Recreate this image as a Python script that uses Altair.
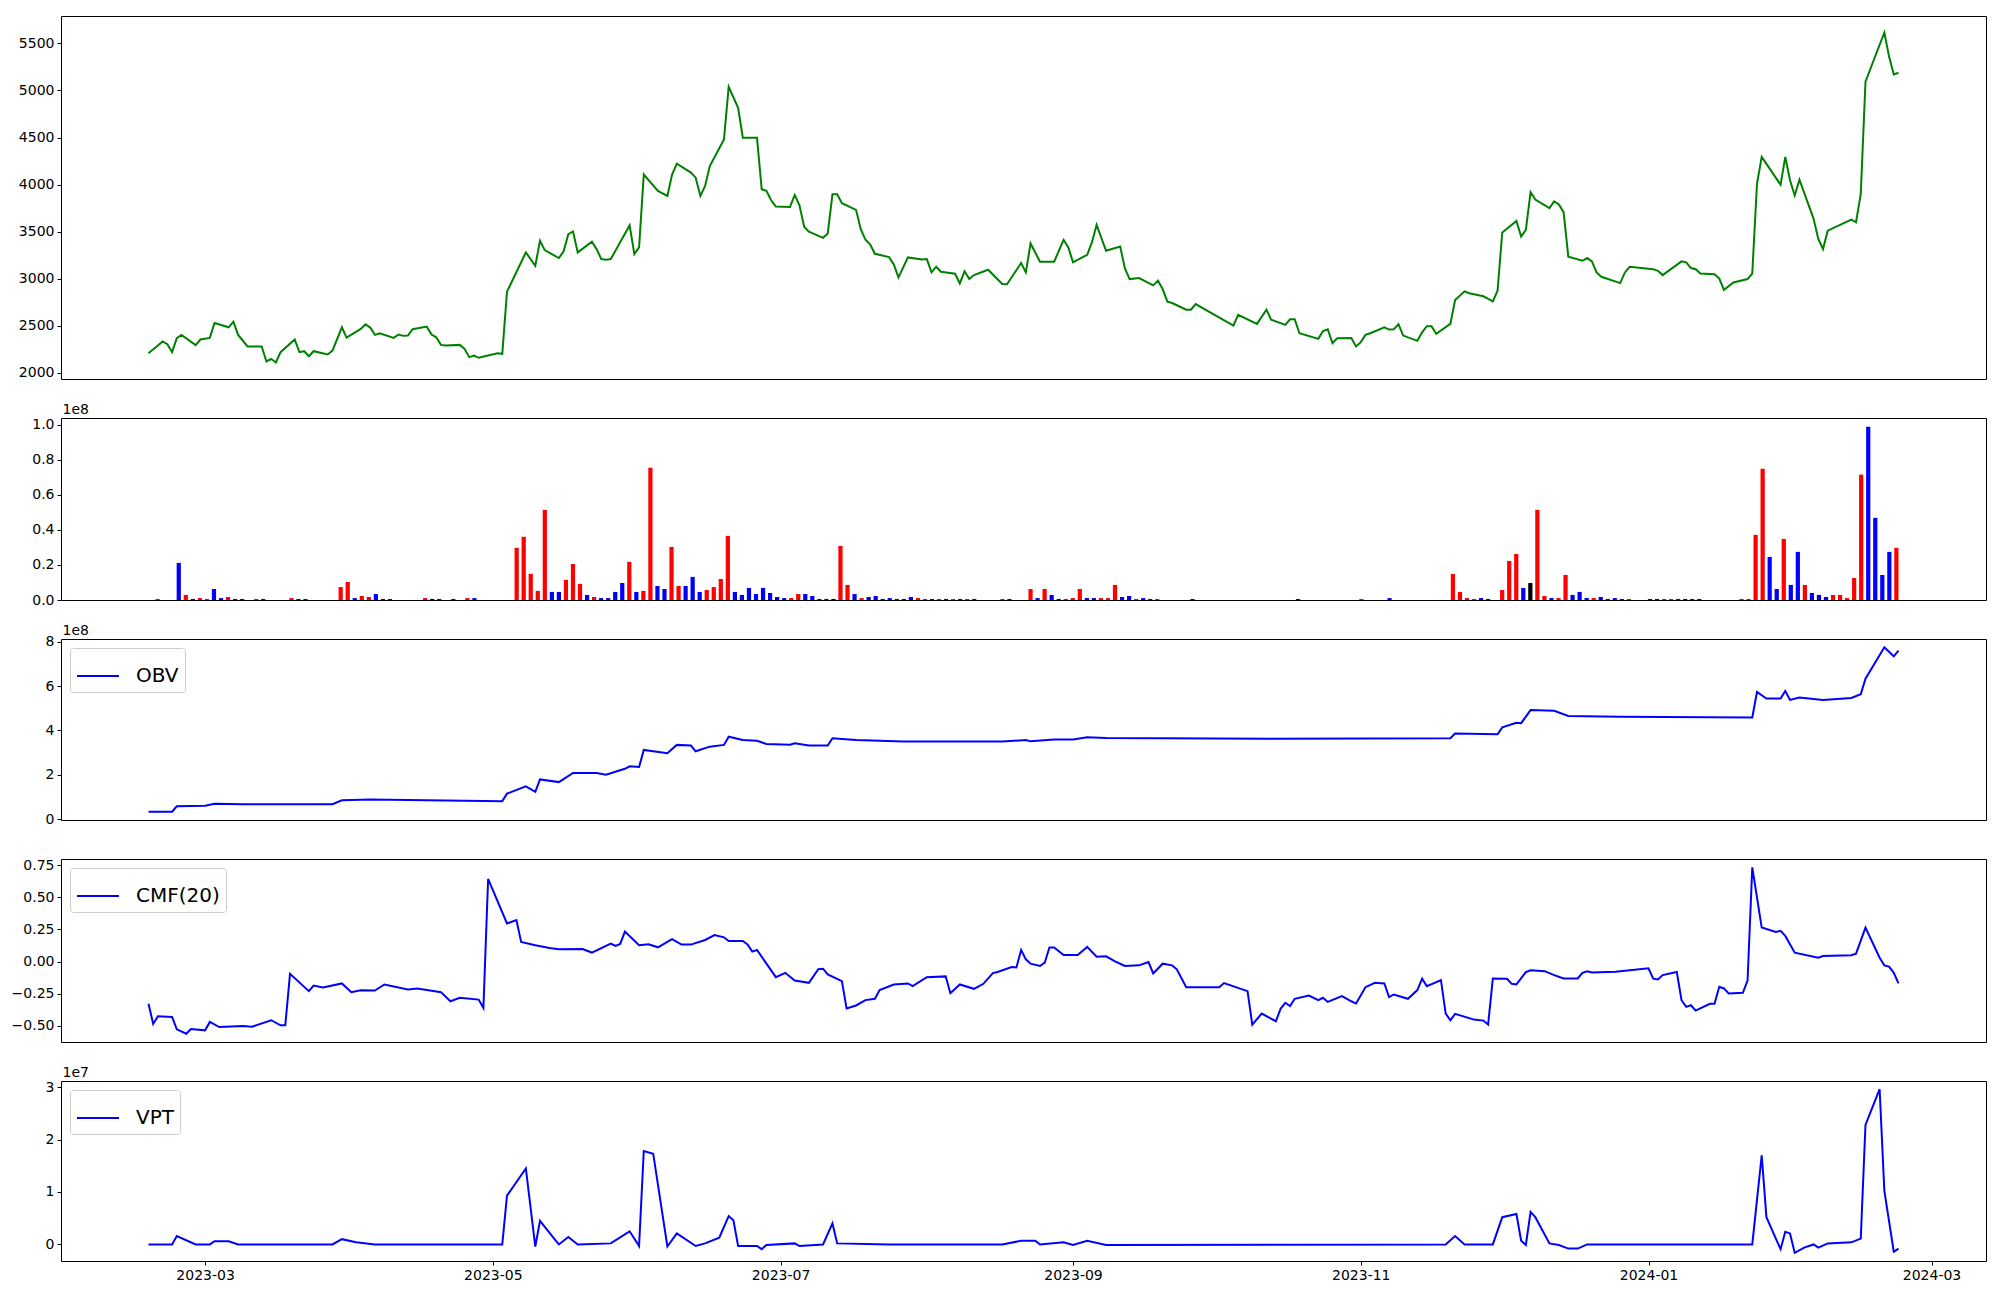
import altair as alt
import pandas as pd

START = pd.Timestamp("2023-02-17")  # day 0 of the series

# ---------------- price (green line) ----------------
price_day = [
    0, 3, 4, 5, 6, 7, 10, 11, 13, 14,
    17, 18, 19, 21, 24, 25, 26, 27, 28, 31,
    32, 33, 34, 35, 38, 39, 41, 42, 45, 46,
    47, 48, 49, 52, 53, 54, 55, 56, 59, 60,
    61, 62, 63, 66, 67, 68, 69, 70, 74, 75,
    76, 80, 82, 83, 84, 87, 88, 89, 90, 91,
    94, 95, 96, 97, 98, 102, 103, 104, 105, 108,
    110, 111, 112, 115, 116, 117, 118, 119, 122, 123,
    125, 126, 129, 130, 131, 132, 133, 136, 137, 138,
    139, 140, 143, 144, 145, 146, 147, 150, 151, 152,
    153, 154, 157, 158, 159, 161, 164, 165, 166, 167,
    168, 171, 172, 173, 174, 175, 178, 181, 182, 185,
    186, 187, 189, 192, 194, 195, 196, 199, 200, 201,
    203, 206, 207, 208, 210, 213, 214, 215, 216, 217,
    220, 221, 222, 230, 231, 235, 237, 238, 241, 242,
    243, 244, 248, 249, 250, 251, 252, 255, 256, 257,
    258, 259, 262, 263, 264, 265, 266, 269, 270, 271,
    272, 273, 276, 277, 279, 280, 283, 285, 286, 287,
    290, 291, 292, 293, 294, 297, 298, 299, 300, 301,
    304, 305, 306, 307, 308, 312, 313, 314, 319, 320,
    321, 325, 326, 327, 328, 329, 332, 333, 334, 336,
    339, 340, 341, 342, 346, 347, 348, 349, 350, 353,
    354, 355, 356, 361, 362, 363, 364, 368, 369, 370,
    371,
]
price_val = [
    2210, 2334, 2306, 2221, 2369, 2404, 2295, 2355, 2372, 2531,
    2485, 2545, 2404, 2281, 2281, 2122, 2150, 2111, 2221, 2355,
    2221, 2231, 2178, 2231, 2196, 2238, 2485, 2376, 2468, 2517,
    2482, 2404, 2422, 2372, 2408, 2394, 2397, 2464, 2492, 2408,
    2379, 2298, 2291, 2298, 2256, 2168, 2185, 2161, 2210, 2203,
    2863, 3280, 3138, 3403, 3304, 3220, 3291, 3474, 3502, 3280,
    3393, 3315, 3209, 3202, 3209, 3569, 3262, 3333, 4106, 3933,
    3880, 4106, 4222, 4127, 4074, 3880, 3986, 4197, 4480, 5038,
    4815, 4497, 4497, 3950, 3933, 3834, 3767, 3763, 3890, 3781,
    3552, 3499, 3435, 3481, 3898, 3898, 3802, 3732, 3527, 3414,
    3364, 3265, 3230, 3153, 3015, 3227, 3206, 3209, 3068, 3128,
    3075, 3054, 2951, 3079, 2997, 3040, 3096, 2944, 2941, 3167,
    3068, 3375, 3181, 3181, 3414, 3333, 3174, 3255, 3386, 3573,
    3297, 3343, 3110, 2997, 3008, 2930, 2980, 2891, 2757, 2743,
    2672, 2672, 2732, 2503, 2616, 2521, 2672, 2566, 2510, 2570,
    2570, 2422, 2362, 2446, 2464, 2316, 2369, 2372, 2281, 2327,
    2404, 2422, 2485, 2461, 2464, 2517, 2397, 2341, 2432, 2496,
    2496, 2415, 2521, 2775, 2867, 2846, 2814, 2761, 2874, 3491,
    3615, 3449, 3519, 3920, 3842, 3750, 3821, 3789, 3707, 3235,
    3191, 3220, 3185, 3067, 3021, 2954, 3067, 3127, 3102, 3084,
    3039, 3185, 3174, 3114, 3102, 3056, 3049, 3003, 2882, 2961,
    2997, 3056, 4009, 4294, 3999, 4294, 4046, 3885, 4052, 3636,
    3422, 3316, 3511, 3629, 3600, 3902, 5093, 5615, 5359, 5170,
    5188,
]

# ---------------- volume bars (position index, value in 1e8, colour) ----------------
VOL_COUNT = 249
vol_idx = [
    1, 4, 5, 6, 7, 8, 9, 10, 11, 12,
    13, 15, 16, 20, 21, 22, 27, 28, 29, 30,
    31, 32, 33, 34, 39, 40, 41, 43, 45, 46,
    52, 53, 54, 55, 56, 57, 58, 59, 60, 61,
    62, 63, 64, 65, 66, 67, 68, 69, 70, 71,
    72, 73, 74, 75, 76, 77, 78, 79, 80, 81,
    82, 83, 84, 85, 86, 87, 88, 89, 90, 91,
    92, 93, 94, 95, 96, 97, 98, 99, 100, 101,
    102, 103, 104, 105, 106, 107, 108, 109, 110, 111,
    112, 113, 114, 115, 116, 117, 121, 122, 125, 126,
    127, 128, 129, 130, 131, 132, 133, 134, 135, 136,
    137, 138, 139, 140, 141, 142, 143, 148, 163, 172,
    176, 185, 186, 187, 188, 189, 190, 192, 193, 194,
    195, 196, 197, 198, 199, 200, 201, 202, 203, 204,
    205, 206, 207, 208, 209, 210, 213, 214, 215, 216,
    217, 218, 219, 220, 226, 227, 228, 229, 230, 231,
    232, 233, 234, 235, 236, 237, 238, 239, 240, 241,
    242, 243, 244, 245, 246, 247, 248,
]
vol_val = [
    0.006, 0.212, 0.029, 0.006, 0.011, 0.006, 0.063, 0.011, 0.017, 0.006,
    0.006, 0.006, 0.006, 0.011, 0.006, 0.006, 0.074, 0.103, 0.011, 0.023,
    0.017, 0.034, 0.006, 0.006, 0.011, 0.006, 0.006, 0.006, 0.011, 0.011,
    0.298, 0.361, 0.149, 0.052, 0.515, 0.046, 0.046, 0.115, 0.206, 0.092,
    0.029, 0.017, 0.011, 0.011, 0.046, 0.097, 0.218, 0.046, 0.052, 0.756,
    0.080, 0.063, 0.303, 0.080, 0.080, 0.132, 0.046, 0.057, 0.074, 0.120,
    0.366, 0.046, 0.029, 0.069, 0.034, 0.069, 0.040, 0.017, 0.011, 0.011,
    0.034, 0.034, 0.023, 0.006, 0.006, 0.006, 0.309, 0.086, 0.034, 0.011,
    0.017, 0.023, 0.006, 0.011, 0.006, 0.006, 0.017, 0.011, 0.006, 0.006,
    0.006, 0.006, 0.006, 0.006, 0.006, 0.006, 0.006, 0.006, 0.063, 0.011,
    0.063, 0.029, 0.006, 0.006, 0.011, 0.063, 0.011, 0.011, 0.011, 0.011,
    0.086, 0.017, 0.023, 0.006, 0.011, 0.006, 0.006, 0.006, 0.006, 0.006,
    0.011, 0.149, 0.046, 0.011, 0.006, 0.011, 0.006, 0.057, 0.223, 0.263,
    0.069, 0.097, 0.515, 0.023, 0.011, 0.011, 0.143, 0.029, 0.046, 0.011,
    0.011, 0.017, 0.006, 0.011, 0.006, 0.006, 0.006, 0.006, 0.006, 0.006,
    0.006, 0.006, 0.006, 0.006, 0.006, 0.006, 0.372, 0.750, 0.246, 0.063,
    0.349, 0.086, 0.275, 0.086, 0.040, 0.029, 0.017, 0.029, 0.029, 0.011,
    0.126, 0.716, 0.990, 0.469, 0.143, 0.275, 0.298,
]
vol_col = [
    "r", "b", "r", "b", "r", "r", "b", "b", "r", "b",
    "b", "r", "b", "r", "b", "b", "r", "r", "b", "r",
    "r", "b", "b", "b", "r", "k", "b", "b", "r", "b",
    "r", "r", "r", "r", "r", "b", "b", "r", "r", "r",
    "b", "r", "b", "b", "b", "b", "r", "b", "r", "r",
    "b", "b", "r", "r", "b", "b", "b", "r", "r", "r",
    "r", "b", "b", "b", "b", "b", "b", "b", "b", "r",
    "r", "b", "b", "b", "b", "k", "r", "r", "b", "r",
    "b", "b", "b", "b", "b", "b", "b", "r", "r", "b",
    "r", "b", "r", "b", "r", "b", "r", "b", "r", "b",
    "r", "b", "b", "r", "r", "r", "b", "b", "r", "r",
    "r", "b", "b", "r", "b", "b", "r", "b", "b", "r",
    "b", "r", "r", "r", "r", "b", "b", "r", "r", "r",
    "b", "k", "r", "r", "b", "r", "r", "b", "b", "b",
    "r", "b", "b", "b", "b", "r", "b", "b", "r", "r",
    "b", "b", "b", "b", "r", "r", "r", "r", "b", "b",
    "r", "b", "b", "r", "b", "b", "b", "r", "r", "r",
    "r", "r", "b", "b", "b", "b", "r",
]

# ---------------- OBV (1e8) ----------------
obv_day = [
    0, 5, 6, 12, 14, 20, 39, 41, 47, 75,
    76, 80, 82, 83, 87, 90, 95, 97, 101, 102,
    104, 105, 110, 112, 115, 116, 119, 122, 123, 126,
    129, 131, 136, 137, 140, 144, 145, 150, 160, 181,
    186, 187, 192, 196, 199, 203, 238, 276, 277, 286,
    287, 290, 291, 293, 298, 301, 312, 340, 341, 343,
    346, 347, 348, 350, 355, 361, 363, 364, 368, 370,
    371,
]
obv_val = [
    0.33, 0.33, 0.58, 0.60, 0.69, 0.67, 0.67, 0.85, 0.88, 0.81,
    1.15, 1.48, 1.23, 1.79, 1.67, 2.08, 2.08, 2.00, 2.27, 2.38,
    2.35, 3.12, 2.97, 3.35, 3.32, 3.06, 3.27, 3.35, 3.72, 3.57,
    3.54, 3.39, 3.36, 3.42, 3.32, 3.32, 3.65, 3.57, 3.50, 3.50,
    3.57, 3.51, 3.59, 3.59, 3.69, 3.66, 3.63, 3.65, 3.86, 3.83,
    4.14, 4.35, 4.33, 4.92, 4.89, 4.66, 4.62, 4.59, 5.74, 5.44,
    5.44, 5.78, 5.38, 5.49, 5.38, 5.47, 5.64, 6.34, 7.76, 7.35,
    7.61,
]

# ---------------- CMF(20) ----------------
cmf_day = [
    0, 1, 2, 5, 6, 8, 9, 12, 13, 15,
    20, 22, 26, 28, 29, 30, 34, 35, 37, 41,
    43, 45, 48, 50, 55, 57, 62, 64, 66, 70,
    71, 72, 76, 78, 79, 82, 85, 87, 92, 94,
    98, 99, 100, 101, 104, 106, 108, 111, 113, 115,
    118, 120, 122, 123, 126, 127, 128, 129, 133, 135,
    137, 140, 142, 143, 144, 147, 148, 150, 152, 154,
    155, 158, 161, 162, 165, 169, 170, 172, 175, 177,
    179, 180, 183, 184, 185, 186, 187, 189, 190, 191,
    192, 194, 197, 199, 201, 203, 205, 207, 210, 212,
    213, 215, 217, 218, 220, 227, 228, 233, 234, 236,
    239, 240, 241, 242, 243, 246, 248, 249, 250, 253,
    255, 256, 258, 260, 262, 263, 264, 267, 269, 270,
    271, 274, 275, 276, 277, 281, 283, 284, 285, 288,
    289, 290, 292, 293, 296, 298, 300, 303, 304, 305,
    306, 311, 318, 319, 320, 321, 324, 325, 326, 327,
    328, 331, 332, 333, 334, 335, 338, 339, 340, 342,
    345, 346, 347, 349, 354, 355, 361, 362, 364, 367,
    368, 369, 370, 371,
]
cmf_val = [
    -0.330, -0.487, -0.427, -0.432, -0.529, -0.563, -0.526, -0.537, -0.471, -0.511,
    -0.503, -0.508, -0.458, -0.498, -0.498, -0.096, -0.231, -0.187, -0.203, -0.171,
    -0.239, -0.224, -0.226, -0.179, -0.218, -0.211, -0.239, -0.310, -0.283, -0.297,
    -0.362, 0.644, 0.297, 0.323, 0.153, 0.127, 0.106, 0.096, 0.098, 0.070,
    0.140, 0.122, 0.137, 0.234, 0.127, 0.135, 0.111, 0.174, 0.132, 0.132,
    0.168, 0.207, 0.189, 0.160, 0.160, 0.134, 0.077, 0.090, -0.122, -0.088,
    -0.148, -0.166, -0.059, -0.056, -0.101, -0.153, -0.367, -0.343, -0.301, -0.291,
    -0.223, -0.179, -0.171, -0.192, -0.122, -0.116, -0.247, -0.179, -0.213, -0.174,
    -0.090, -0.082, -0.043, -0.046, 0.090, 0.017, -0.017, -0.035, -0.009, 0.109,
    0.109, 0.051, 0.051, 0.114, 0.038, 0.041, -0.001, -0.035, -0.030, -0.004,
    -0.093, -0.017, -0.030, -0.061, -0.200, -0.200, -0.168, -0.231, -0.492, -0.406,
    -0.466, -0.369, -0.322, -0.348, -0.291, -0.265, -0.302, -0.283, -0.315, -0.270,
    -0.310, -0.328, -0.200, -0.166, -0.171, -0.278, -0.257, -0.291, -0.223, -0.134,
    -0.192, -0.145, -0.406, -0.458, -0.408, -0.453, -0.461, -0.492, -0.132, -0.135,
    -0.174, -0.179, -0.083, -0.069, -0.075, -0.106, -0.132, -0.132, -0.088, -0.077,
    -0.085, -0.080, -0.053, -0.134, -0.140, -0.106, -0.082, -0.302, -0.354, -0.341,
    -0.383, -0.330, -0.330, -0.197, -0.210, -0.249, -0.244, -0.148, 0.735, 0.265,
    0.231, 0.239, 0.200, 0.069, 0.030, 0.043, 0.049, 0.061, 0.265, 0.030,
    -0.030, -0.040, -0.088, -0.170,
]

# ---------------- VPT (1e7) ----------------
vpt_day = [
    0, 5, 6, 10, 13, 14, 17, 19, 39, 41,
    44, 48, 75, 76, 80, 82, 83, 86, 87, 89,
    91, 98, 102, 104, 105, 107, 110, 112, 116, 118,
    121, 123, 124, 125, 129, 130, 131, 137, 138, 143,
    145, 146, 157, 181, 185, 188, 189, 194, 196, 199,
    203, 275, 277, 279, 285, 287, 290, 291, 292, 293,
    294, 297, 299, 301, 303, 305, 340, 342, 343, 345,
    346, 347, 348, 349, 351, 353, 354, 356, 361, 363,
    364, 367, 368, 370, 371,
]
vpt_val = [
    0.0, 0.0, 0.16, 0.0, 0.0, 0.06, 0.06, 0.0, 0.0, 0.10,
    0.04, 0.0, 0.0, 0.93, 1.45, -0.04, 0.45, 0.11, 0.0, 0.14,
    0.0, 0.02, 0.25, -0.03, 1.78, 1.73, -0.04, 0.21, -0.03, 0.02,
    0.13, 0.54, 0.46, -0.03, -0.03, -0.09, -0.01, 0.02, -0.03, 0.0,
    0.40, 0.02, 0.0, 0.0, 0.07, 0.07, 0.0, 0.04, -0.01, 0.07,
    -0.01, 0.0, 0.16, 0.0, 0.0, 0.52, 0.58, 0.07, -0.01, 0.62,
    0.52, 0.02, -0.01, -0.08, -0.08, 0.0, 0.0, 1.70, 0.52, 0.11,
    -0.09, 0.24, 0.21, -0.16, -0.06, 0.0, -0.06, 0.02, 0.04, 0.11,
    2.28, 2.96, 1.02, -0.14, -0.08,
]

COLORS = {"r": "#ff0000", "b": "#0000ff", "k": "#000000"}
FONT = "DejaVu Sans"


def to_dates(days):
    return [(START + pd.Timedelta(days=d)).strftime("%Y-%m-%dT00:00:00") for d in days]


def padded(vals, frac=0.05):
    lo, hi = min(vals), max(vals)
    r = hi - lo
    return [lo - frac * r, hi + frac * r]


def dt(ts):
    return alt.DateTime(year=ts.year, month=ts.month, date=ts.day,
                        hours=ts.hour, minutes=ts.minute, seconds=ts.second)


price_df = pd.DataFrame({"date": to_dates(price_day), "price": price_val})
vol_df = pd.DataFrame({"idx": vol_idx,
                       "volume": [v * 1e8 for v in vol_val],
                       "color": [COLORS[c] for c in vol_col]})
obv_df = pd.DataFrame({"date": to_dates(obv_day), "value": [v * 1e8 for v in obv_val], "series": "OBV"})
cmf_df = pd.DataFrame({"date": to_dates(cmf_day), "value": cmf_val, "series": "CMF(20)"})
vpt_df = pd.DataFrame({"date": to_dates(vpt_day), "value": [v * 1e7 for v in vpt_val], "series": "VPT"})

# shared time scale with matplotlib-like 5% margins
last_day = max(price_day)
pad = 0.05 * last_day
x_lo = START - pd.Timedelta(days=pad)
x_hi = START + pd.Timedelta(days=last_day + pad)
x_scale = alt.Scale(domain=[dt(x_lo), dt(x_hi)])

W = 1925


def y_axis(values, label_expr=None, fmt=None, offset_text=None):
    kw = dict(values=values, grid=False, domain=False, ticks=True,
              tickSize=4, labelOverlap=False)
    if label_expr:
        kw["labelExpr"] = label_expr
    if fmt:
        kw["format"] = fmt
    if offset_text:
        # matplotlib-style scale multiplier shown above the top-left corner
        kw.update(title=offset_text, titleAngle=0, titleX=1, titleY=-5,
                  titleAlign="left", titleBaseline="alphabetic",
                  titleFont=FONT, titleFontSize=14, titleFontWeight="normal",
                  titleColor="black")
    else:
        kw["title"] = None
    return alt.Axis(**kw)


def legend():
    return alt.Legend(orient="top-left", title=None, offset=9, padding=6,
                      symbolType="stroke", symbolSize=1764, symbolStrokeWidth=2,
                      labelFontSize=20, labelFont=FONT, labelColor="black",
                      labelOffset=16, fillColor="rgba(255,255,255,0.8)",
                      strokeColor="#cccccc", cornerRadius=3)


price = alt.Chart(price_df).mark_line(color="#008000", strokeWidth=2).encode(
    x=alt.X("date:T", scale=x_scale, axis=None),
    y=alt.Y("price:Q", scale=alt.Scale(domain=padded(price_val), nice=False, zero=False),
            axis=y_axis(list(range(2000, 5501, 500)), fmt="d")),
).properties(width=W, height=363)

vmax = max(vol_val) * 1e8
vol = alt.Chart(vol_df).transform_calculate(
    x0="datum.idx - 0.3", x1="datum.idx + 0.3"
).mark_bar().encode(
    x=alt.X("x0:Q", scale=alt.Scale(domain=[-0.3 - 0.05 * (VOL_COUNT - 1 + 0.6),
                                            VOL_COUNT - 1 + 0.3 + 0.05 * (VOL_COUNT - 1 + 0.6)],
                                    nice=False, zero=False), axis=None),
    x2="x1:Q",
    y=alt.Y("volume:Q", scale=alt.Scale(domain=[0, vmax * 1.05], nice=False),
            axis=y_axis([0, 2e7, 4e7, 6e7, 8e7, 1e8], "format(datum.value / 1e8, '.1f')",
                        offset_text="1e8")),
    y2=alt.datum(0),
    color=alt.Color("color:N", scale=None),
).properties(width=W, height=182)

obv = alt.Chart(obv_df).mark_line(strokeWidth=2).encode(
    x=alt.X("date:T", scale=x_scale, axis=None),
    y=alt.Y("value:Q", scale=alt.Scale(domain=padded([v * 1e8 for v in obv_val]), nice=False, zero=False),
            axis=y_axis([0, 2e8, 4e8, 6e8, 8e8], "format(datum.value / 1e8, 'd')", offset_text="1e8")),
    color=alt.Color("series:N", scale=alt.Scale(domain=["OBV"], range=["#0000ff"]), legend=legend()),
).properties(width=W, height=181)

cmf = alt.Chart(cmf_df).mark_line(strokeWidth=2).encode(
    x=alt.X("date:T", scale=x_scale, axis=None),
    y=alt.Y("value:Q", scale=alt.Scale(domain=padded(cmf_val), nice=False, zero=False),
            axis=y_axis([-0.5, -0.25, 0, 0.25, 0.5, 0.75],
                        "datum.value < 0 ? '\u2212' + format(-datum.value, '.2f') : format(datum.value, '.2f')")),
    color=alt.Color("series:N", scale=alt.Scale(domain=["CMF(20)"], range=["#0000ff"]), legend=legend()),
).properties(width=W, height=183)

x_ticks = [alt.DateTime(year=2023, month=m, date=1) for m in (3, 5, 7, 9, 11)] + \
          [alt.DateTime(year=2024, month=m, date=1) for m in (1, 3)]

vpt = alt.Chart(vpt_df).mark_line(strokeWidth=2).encode(
    x=alt.X("date:T", scale=x_scale,
            axis=alt.Axis(title=None, values=x_ticks, format="%Y-%m", grid=False,
                          domain=False, labelFlush=False, tickSize=4, labelOverlap=False)),
    y=alt.Y("value:Q", scale=alt.Scale(domain=padded([v * 1e7 for v in vpt_val]), nice=False, zero=False),
            axis=y_axis([0, 1e7, 2e7, 3e7], "format(datum.value / 1e7, 'd')", offset_text="1e7")),
    color=alt.Color("series:N", scale=alt.Scale(domain=["VPT"], range=["#0000ff"]), legend=legend()),
).properties(width=W, height=180)

chart = alt.vconcat(
    price, vol, obv, cmf, vpt, spacing=39, bounds="flush"
).resolve_scale(
    x="independent", y="independent", color="independent"
).resolve_legend(
    color="independent"
).configure_view(
    stroke="black", strokeWidth=1
).configure_axis(
    labelFont=FONT, labelFontSize=14, labelColor="black", tickColor="black",
    tickWidth=1, labelPadding=3
).properties(
    padding={"left": 2, "top": 7, "right": 3, "bottom": 5}, background="white"
)

chart.save("out.html", embed_options={"renderer": "svg", "actions": False})
